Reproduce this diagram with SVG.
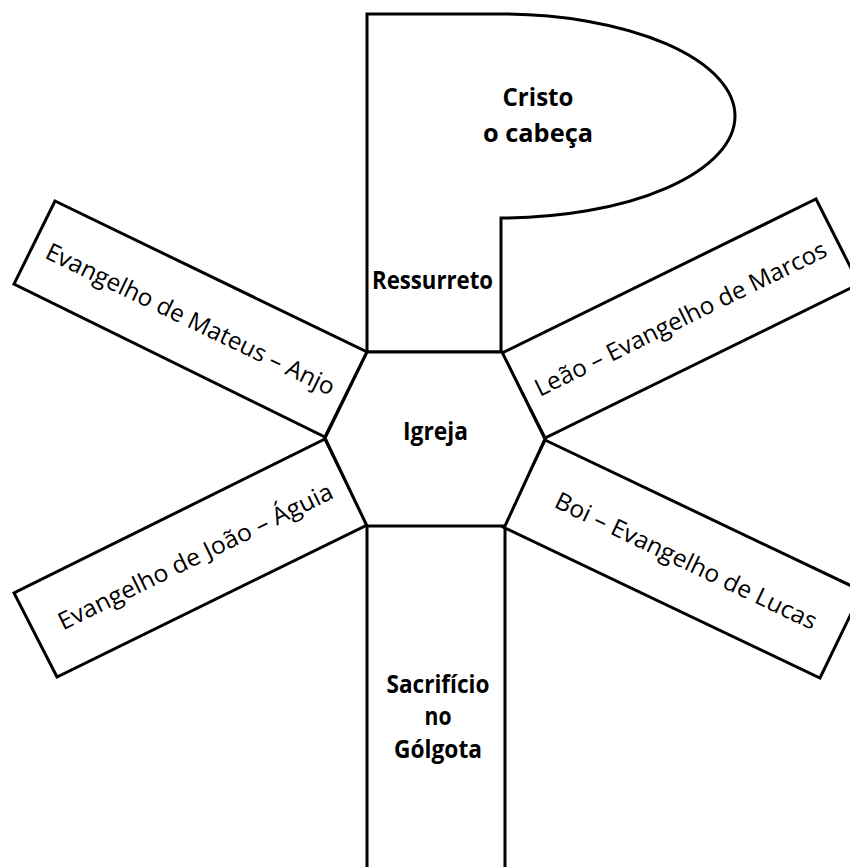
<svg xmlns="http://www.w3.org/2000/svg" width="850" height="867" viewBox="0 0 850 867">
<style>
.sh{fill:#fff;stroke:#000;stroke-width:3;stroke-linejoin:miter}
.ln{fill:none;stroke:#000;stroke-width:3}
.bt{font-family:"Open Sans","Liberation Sans",sans-serif;font-weight:bold;font-size:25px;fill:#000;text-anchor:middle}
.at{font-family:"Open Sans","Liberation Sans",sans-serif;font-weight:normal;font-size:24px;fill:#000;text-anchor:middle}
</style>
<rect width="850" height="867" fill="#fff"/>
<g id="cristo">
<path class="sh" d="M367,352 L367,14 L501,14 A234,102 0 0 1 501,218 L501,352 Z"/>
<text class="bt" x="538" y="106" textLength="71" lengthAdjust="spacingAndGlyphs">Cristo</text>
<text class="bt" x="538" y="142" textLength="110" lengthAdjust="spacingAndGlyphs">o cabeça</text>
<text class="bt" x="432.5" y="289" textLength="121" lengthAdjust="spacingAndGlyphs">Ressurreto</text>
</g>
<g id="sacrificio">
<path class="ln" d="M367,526 L367,870 M505,526 L505,870"/>
<text class="bt" x="438" y="693" textLength="103" lengthAdjust="spacingAndGlyphs">Sacrifício</text>
<text class="bt" x="438" y="725" textLength="27" lengthAdjust="spacingAndGlyphs">no</text>
<text class="bt" x="438" y="758" textLength="88" lengthAdjust="spacingAndGlyphs">Gólgota</text>
</g>
<g id="mateus">
<polygon class="sh" points="55,201 367,352 325,437 14,284"/>
<text class="at" transform="translate(190.5,319) rotate(25.8)" y="8.5" textLength="318" lengthAdjust="spacingAndGlyphs">Evangelho de Mateus – Anjo</text>
</g>
<g id="marcos">
<polygon class="sh" points="502,353 816,199 859,284 545,438"/>
<text class="at" transform="translate(680.5,318.5) rotate(-26.1)" y="8.5" textLength="322" lengthAdjust="spacingAndGlyphs">Leão – Evangelho de Marcos</text>
</g>
<g id="joao">
<polygon class="sh" points="325,439 367,525 57,677 14,593"/>
<text class="at" transform="translate(190.75,558.5) rotate(-26.1)" x="5" y="8.5" textLength="303" lengthAdjust="spacingAndGlyphs">Evangelho de João – Águia</text>
</g>
<g id="lucas">
<polygon class="sh" points="545,440 862,591 820,678 503,527"/>
<text class="at" transform="translate(682.5,559) rotate(25.5)" x="4" y="8.5" textLength="287" lengthAdjust="spacingAndGlyphs">Boi – Evangelho de Lucas</text>
</g>
<g id="igreja">
<polygon class="sh" points="367,352 502,352 545,439 505,526 367,526 325,438"/>
<text class="bt" x="435.5" y="440" textLength="65" lengthAdjust="spacingAndGlyphs">Igreja</text>
</g>
</svg>
